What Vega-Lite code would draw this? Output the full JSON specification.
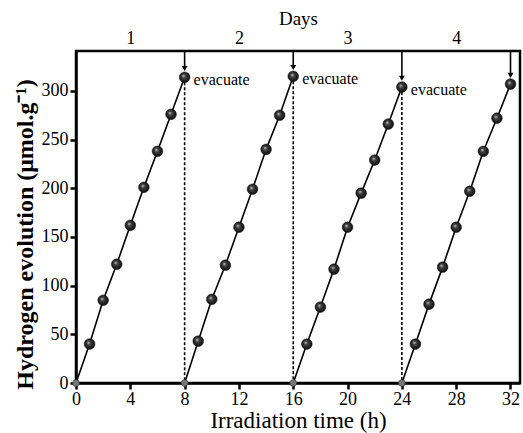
{
  "$schema": "https://vega.github.io/schema/vega-lite/v6.json",
  "autosize": "none",
  "width": 444,
  "height": 332,
  "padding": {"left": 76, "top": 51, "right": 3, "bottom": 50},
  "background": "white",
  "config": {
    "view": {"stroke": "black", "strokeWidth": 2.5},
    "font": "Liberation Serif",
    "axis": {"labelFont": "Liberation Serif", "titleFont": "Liberation Serif", "labelColor": "black", "titleColor": "black", "domainColor": "black", "tickColor": "black", "grid": false}
  },
  "datasets": {
    "pts": [
      {"t": 0, "h": 0, "day": 1}, {"t": 1, "h": 40, "day": 1}, {"t": 2, "h": 85, "day": 1}, {"t": 3, "h": 122, "day": 1}, {"t": 4, "h": 162, "day": 1}, {"t": 5, "h": 201, "day": 1}, {"t": 6, "h": 238, "day": 1}, {"t": 7, "h": 276, "day": 1}, {"t": 8, "h": 314, "day": 1},
      {"t": 8, "h": 0, "day": 2}, {"t": 9, "h": 43, "day": 2}, {"t": 10, "h": 86, "day": 2}, {"t": 11, "h": 121, "day": 2}, {"t": 12, "h": 160, "day": 2}, {"t": 13, "h": 199, "day": 2}, {"t": 14, "h": 240, "day": 2}, {"t": 15, "h": 275, "day": 2}, {"t": 16, "h": 315, "day": 2},
      {"t": 16, "h": 0, "day": 3}, {"t": 17, "h": 40, "day": 3}, {"t": 18, "h": 78, "day": 3}, {"t": 19, "h": 117, "day": 3}, {"t": 20, "h": 160, "day": 3}, {"t": 21, "h": 195, "day": 3}, {"t": 22, "h": 229, "day": 3}, {"t": 23, "h": 266, "day": 3}, {"t": 24, "h": 304, "day": 3},
      {"t": 24, "h": 0, "day": 4}, {"t": 25, "h": 40, "day": 4}, {"t": 26, "h": 81, "day": 4}, {"t": 27, "h": 119, "day": 4}, {"t": 28, "h": 160, "day": 4}, {"t": 29, "h": 197, "day": 4}, {"t": 30, "h": 238, "day": 4}, {"t": 31, "h": 272, "day": 4}, {"t": 32, "h": 307, "day": 4}
    ],
    "guides": [
      {"t": 8, "top": 314}, {"t": 16, "top": 315}, {"t": 24, "top": 304}
    ],
    "arrows": [
      {"t": 8, "tip": 323, "label": "evacuate", "ly": 311},
      {"t": 16, "tip": 324, "label": "evacuate", "ly": 312},
      {"t": 24, "tip": 313, "label": "evacuate", "ly": 301},
      {"t": 32, "tip": 316, "label": "", "ly": 305}
    ]
  },
  "resolve": {"axis": {"x": "independent"}},
  "layer": [
    {
      "data": {"name": "pts"},
      "mark": {"type": "line", "color": "black", "strokeWidth": 1.6},
      "encoding": {
        "x": {"field": "t", "type": "quantitative", "scale": {"domain": [0, 32.7], "nice": false, "zero": false},
          "axis": {"orient": "bottom", "values": [0, 4, 8, 12, 16, 20, 24, 28, 32], "title": "Irradiation time (h)", "titleFontSize": 23, "titleFontWeight": "normal", "titlePadding": 1, "labelFontSize": 18, "labelPadding": 1, "tickSize": 6, "tickWidth": 2.5, "domainWidth": 2.5, "labelFlush": false}},
        "y": {"field": "h", "type": "quantitative", "scale": {"domain": [0, 341], "nice": false},
          "axis": {"values": [0, 25, 50, 75, 100, 125, 150, 175, 200, 225, 250, 275, 300, 325], "labelExpr": "datum.value % 50 === 0 ? datum.label : ''", "tickSize": {"condition": {"test": "datum.value % 50 === 0", "value": 6}, "value": 4}, "tickWidth": 2.5, "domainWidth": 2.5, "labelFontSize": 18, "labelPadding": 2, "title": "Hydrogen evolution (μmol.g⁻¹)", "titleFontSize": 24, "titleFontWeight": "bold", "titlePadding": 4, "titleY": 183}},
        "detail": {"field": "day", "type": "nominal"}
      }
    },
    {
      "data": {"name": "guides"},
      "mark": {"type": "rule", "color": "black", "strokeWidth": 1.6, "strokeDash": [3, 2]},
      "encoding": {
        "x": {"field": "t", "type": "quantitative", "axis": null},
        "y": {"field": "top", "type": "quantitative"},
        "y2": {"datum": 0}
      }
    },
    {
      "data": {"name": "pts"},
      "transform": [{"filter": "datum.h > 0"}],
      "mark": {"type": "point", "filled": true, "size": 115, "opacity": 1, "stroke": "#111", "strokeWidth": 0.5,
        "fill": {"gradient": "radial", "x1": 0.38, "y1": 0.35, "r1": 0, "x2": 0.5, "y2": 0.5, "r2": 0.55,
          "stops": [{"offset": 0, "color": "#d8d8d8"}, {"offset": 0.3, "color": "#444"}, {"offset": 1, "color": "#050505"}]}},
      "encoding": {
        "x": {"field": "t", "type": "quantitative", "axis": null},
        "y": {"field": "h", "type": "quantitative"}
      }
    },
    {
      "data": {"name": "pts"},
      "transform": [{"filter": "datum.h == 0"}],
      "mark": {"type": "point", "filled": true, "size": 45, "opacity": 1, "color": "#777", "stroke": "#333", "strokeWidth": 0.6},
      "encoding": {
        "x": {"field": "t", "type": "quantitative", "axis": null},
        "y": {"field": "h", "type": "quantitative"}
      }
    },
    {
      "data": {"name": "arrows"},
      "mark": {"type": "rule", "color": "black", "strokeWidth": 1.6},
      "encoding": {
        "x": {"field": "t", "type": "quantitative", "axis": null},
        "y": {"field": "tip", "type": "quantitative"},
        "y2": {"datum": 341}
      }
    },
    {
      "data": {"name": "arrows"},
      "mark": {"type": "point", "shape": "triangle-down", "filled": true, "color": "black", "size": 35, "opacity": 1},
      "encoding": {
        "x": {"field": "t", "type": "quantitative", "axis": null},
        "y": {"field": "tip", "type": "quantitative"}
      }
    },
    {
      "data": {"name": "arrows"},
      "mark": {"type": "text", "align": "left", "baseline": "middle", "dx": 9, "fontSize": 16, "font": "Liberation Serif", "color": "black"},
      "encoding": {
        "x": {"field": "t", "type": "quantitative",
          "axis": {"orient": "top", "values": [4, 12, 20, 28], "labelExpr": "datum.value == 4 ? '1' : datum.value == 12 ? '2' : datum.value == 20 ? '3' : '4'", "ticks": false, "domain": false, "labelFontSize": 18, "labelPadding": 4, "title": "Days", "titleFontSize": 19, "titleFontWeight": "normal", "titlePadding": 1}},
        "y": {"field": "ly", "type": "quantitative"},
        "text": {"field": "label", "type": "nominal"}
      }
    }
  ]
}
